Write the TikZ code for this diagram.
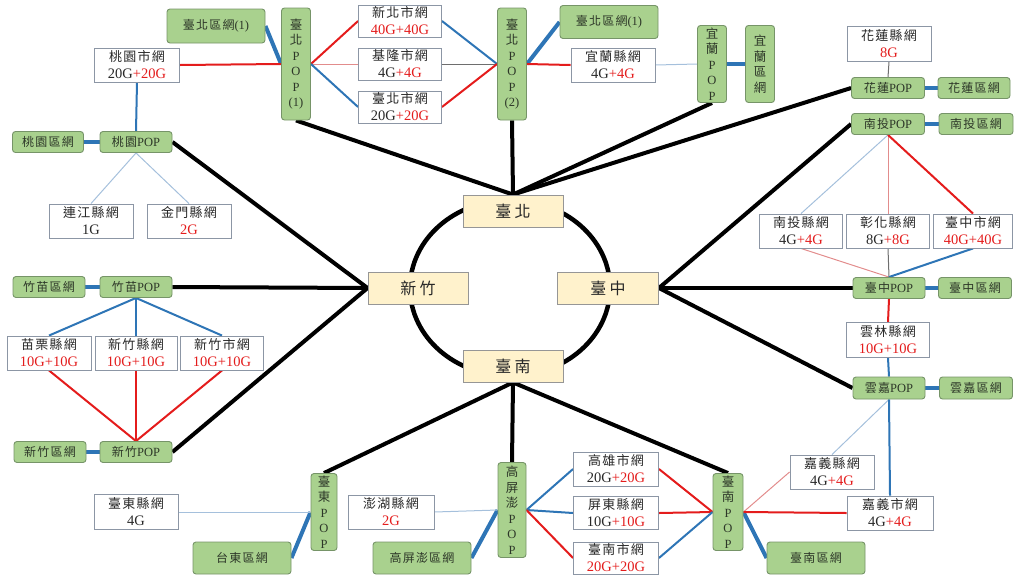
\documentclass[tikz,border=0pt]{standalone}
\usepackage{fontspec}
\usetikzlibrary{backgrounds}
\setmainfont{Liberation Serif}
\newfontfamily\cjk[LetterSpace=10]{Noto Sans CJK TC}
\newfontfamily\cjkn{Noto Sans CJK TC}
\newfontfamily\cjkwide[LetterSpace=20]{Noto Sans CJK TC}
\definecolor{netred}{RGB}{228,28,28}
\definecolor{netblue}{RGB}{46,117,182}
\definecolor{lightblue}{RGB}{165,192,220}
\definecolor{pinkline}{RGB}{226,140,140}
\definecolor{grayline}{RGB}{110,110,110}
\definecolor{gfill}{RGB}{169,209,142}
\definecolor{ggreen}{RGB}{118,148,104}
\definecolor{wgray}{RGB}{140,150,165}
\definecolor{cream}{RGB}{255,242,204}
\definecolor{cgray}{RGB}{150,150,150}
\definecolor{txt}{RGB}{40,40,40}
\definecolor{gtxt}{RGB}{45,55,40}
\newcommand\zh[1]{{\cjk\fontsize{13}{17}\selectfont #1}}
\newcommand\zg[1]{{\cjk\fontsize{12}{14}\selectfont #1}}
\newcommand\zv[1]{{\cjkn\fontsize{12.5}{15.5}\selectfont #1}}
\newcommand\rd[1]{\textcolor{netred}{#1}}
\tikzset{
  wbox/.style={draw=wgray, fill=white, line width=0.9pt, inner sep=0pt,
    minimum width=84pt, minimum height=34pt, align=center, text=txt,
    font=\fontsize{14.5}{17}\selectfont},
  gbox/.style={draw=ggreen, fill=gfill, rounded corners=3pt, line width=0.9pt,
    inner sep=0pt, minimum width=72pt, minimum height=21pt, text=gtxt,
    font=\fontsize{12.5}{14}\selectfont},
  vbox/.style={draw=ggreen, fill=gfill, rounded corners=3pt, line width=0.9pt,
    inner sep=0pt, minimum width=29pt, align=center, text=gtxt,
    font=\fontsize{12.5}{15.5}\selectfont},
  core/.style={draw=cgray, fill=cream, line width=0.9pt, inner sep=0pt,
    minimum width=100pt, minimum height=32pt, text=txt,
    font=\cjkwide\fontsize{16}{18}\selectfont},
  spoke/.style={line width=4pt, black},
  thickb/.style={line width=4pt, netblue},
  lred/.style={line width=2pt, netred},
  lblue/.style={line width=2pt, netblue},
  lpink/.style={line width=1pt, pinkline},
  lgray/.style={line width=1pt, grayline},
  llb/.style={line width=1pt, lightblue}
}
\begin{document}
\begin{tikzpicture}[x=1pt, y=-1pt]
\useasboundingbox (0,0) rectangle (1019,579);
% core
\node[core] (TP) at (513,211) {臺北};
\node[core] (HC) at (418,288) {新竹};
\node[core, minimum width=101pt] (TC) at (608,288) {臺中};
\node[core] (TN) at (513,366) {臺南};
% north
\node[gbox, minimum width=98pt, minimum height=34pt] (tpA) at (216,26) {\zg{臺北區網}(1)};
\node[vbox, minimum height=112pt] (pop1) at (296,64) {\zv{臺}\\\zv{北}\\P\\O\\P\\(1)};
\node[wbox, minimum width=85pt] (tyc) at (137,65) {\zh{桃園市網}\\20G\rd{+20G}};
\node[gbox] (typ) at (136,142) {\zg{桃園}POP};
\node[gbox, minimum width=71pt] (tyr) at (48,142) {\zg{桃園區網}};
\node[wbox, minimum width=83pt, minimum height=32pt] (xb) at (400,21) {\zh{新北市網}\\\rd{40G+40G}};
\node[wbox, minimum width=83pt, minimum height=32pt] (jl) at (400,64) {\zh{基隆市網}\\4G\rd{+4G}};
\node[wbox, minimum width=83pt, minimum height=32pt] (tbc) at (400,107) {\zh{臺北市網}\\20G\rd{+20G}};
\node[vbox, minimum height=112pt] (pop2) at (512,64) {\zv{臺}\\\zv{北}\\P\\O\\P\\(2)};
\node[gbox, minimum width=98pt, minimum height=33pt] (tpB) at (609,22) {\zg{臺北區網}(1)};
\node[wbox] (yl) at (613,65) {\zh{宜蘭縣網}\\4G\rd{+4G}};
\node[vbox, minimum height=77pt] (ylp) at (712,64) {\zv{宜}\\\zv{蘭}\\P\\O\\P};
\node[vbox, minimum height=77pt] (ylr) at (760,64) {\zv{宜}\\\zv{蘭}\\\zv{區}\\\zv{網}};
% east
\node[wbox, minimum height=35pt] (hl) at (889,44) {\zh{花蓮縣網}\\\rd{8G}};
\node[gbox, minimum width=73pt] (hlp) at (888,88) {\zg{花蓮}POP};
\node[gbox] (hlr) at (974,88) {\zg{花蓮區網}};
\node[gbox, minimum width=73pt] (ntp) at (888,124) {\zg{南投}POP};
\node[gbox, minimum width=74pt] (ntr) at (976,124) {\zg{南投區網}};
\node[wbox, minimum width=83pt] (nt) at (801,231) {\zh{南投縣網}\\4G\rd{+4G}};
\node[wbox, minimum width=83pt] (ch) at (888,231) {\zh{彰化縣網}\\8G\rd{+8G}};
\node[wbox, minimum width=79pt] (tcc) at (973,231) {\zh{臺中市網}\\\rd{40G+40G}};
\node[gbox] (tcp) at (889,288) {\zg{臺中}POP};
\node[gbox, minimum width=73pt] (tcr) at (975,288) {\zg{臺中區網}};
\node[wbox, minimum width=83pt, minimum height=35pt] (yln) at (888,340) {\zh{雲林縣網}\\\rd{10G+10G}};
\node[gbox, minimum height=22pt] (ycp) at (889,388) {\zg{雲嘉}POP};
\node[gbox, minimum width=73pt, minimum height=22pt] (ycr) at (976,388) {\zg{雲嘉區網}};
\node[wbox] (cyx) at (832,472) {\zh{嘉義縣網}\\4G\rd{+4G}};
\node[wbox, minimum width=86pt] (cys) at (890,513) {\zh{嘉義市網}\\4G\rd{+4G}};
% south
\node[vbox, minimum width=30pt, minimum height=77pt] (tnp) at (728,512) {\zv{臺}\\\zv{南}\\P\\O\\P};
\node[gbox, minimum width=98pt, minimum height=32pt] (tnr) at (816,558) {\zg{臺南區網}};
\node[vbox, minimum width=28pt, minimum height=95pt] (kpp) at (512,510) {\zv{高}\\\zv{屏}\\\zv{澎}\\P\\O\\P};
\node[wbox, minimum width=85pt] (kh) at (616,469) {\zh{高雄市網}\\20G\rd{+20G}};
\node[wbox, minimum width=85pt, minimum height=33pt] (pt) at (616,513) {\zh{屏東縣網}\\10G\rd{+10G}};
\node[wbox, minimum width=85pt, minimum height=32pt] (tnc) at (616,558) {\zh{臺南市網}\\\rd{20G+20G}};
\node[wbox, minimum width=86pt] (ph) at (391,512) {\zh{澎湖縣網}\\\rd{2G}};
\node[gbox, minimum width=98pt, minimum height=32pt] (kpr) at (422,558) {\zg{高屏澎區網}};
\node[vbox, minimum width=26pt, minimum height=77pt] (tdp) at (324,512) {\zv{臺}\\\zv{東}\\P\\O\\P};
\node[wbox, minimum height=35pt] (td) at (136,512) {\zh{臺東縣網}\\4G};
\node[gbox, minimum width=98pt, minimum height=32pt] (tdr) at (242,558) {\zg{台東區網}};
% west
\node[wbox] (lj) at (91,221) {\zh{連江縣網}\\1G};
\node[wbox] (km) at (189,221) {\zh{金門縣網}\\\rd{2G}};
\node[gbox] (zmp) at (136,287) {\zg{竹苗}POP};
\node[gbox] (zmr) at (49,287) {\zg{竹苗區網}};
\node[wbox] (ml) at (49,353) {\zh{苗栗縣網}\\\rd{10G+10G}};
\node[wbox, minimum width=82pt] (hcx) at (136,353) {\zh{新竹縣網}\\\rd{10G+10G}};
\node[wbox, minimum width=83pt] (hcs) at (222,353) {\zh{新竹市網}\\\rd{10G+10G}};
\node[gbox] (hcp) at (136,452) {\zg{新竹}POP};
\node[gbox] (hcr) at (50,452) {\zg{新竹區網}};

\begin{scope}[on background layer]
\draw[line width=4.5pt] (510,288) ellipse [x radius=100pt, y radius=88pt];
% spokes
\draw[spoke] (pop1.south) -- (TP.north);
\draw[spoke] (pop2.south) -- (TP.north);
\draw[spoke] (ylp.south) -- (TP.north);
\draw[spoke] (hlp.west) -- (TP.north);
\draw[spoke] (typ.east) -- (HC.west);
\draw[spoke] (zmp.east) -- (HC.west);
\draw[spoke] (hcp.east) -- (HC.west);
\draw[spoke] (ntp.west) -- (TC.east);
\draw[spoke] (tcp.west) -- (TC.east);
\draw[spoke] (ycp.west) -- (TC.east);
\draw[spoke] (tdp.north) -- (TN.south);
\draw[spoke] (kpp.north) -- (TN.south);
\draw[spoke] (tnp.north) -- (TN.south);
% regional links
\draw[thickb] (tpA.east) -- (pop1.west);
\draw[thickb] (pop2.east) -- (tpB.west);
\draw[thickb] (ylp.east) -- (ylr.west);
\draw[thickb] (typ.west) -- (tyr.east);
\draw[thickb] (hlp.east) -- (hlr.west);
\draw[thickb] (ntp.east) -- (ntr.west);
\draw[thickb] (tcp.east) -- (tcr.west);
\draw[thickb] (ycp.east) -- (ycr.west);
\draw[thickb] (tnp.east) -- (tnr.west);
\draw[thickb] (kpr.east) -- (kpp.west);
\draw[thickb] (tdr.east) -- (tdp.west);
\draw[thickb] (zmp.west) -- (zmr.east);
\draw[thickb] (hcp.west) -- (hcr.east);
% Taipei
\draw[lred] (tyc.east) -- (pop1.west);
\draw[lblue] (tyc.south) -- (typ.north);
\draw[lred] (pop1.east) -- (xb.west);
\draw[lpink] (pop1.east) -- (jl.west);
\draw[lblue] (pop1.east) -- (tbc.west);
\draw[lblue] (xb.east) -- (pop2.west);
\draw[lgray] (jl.east) -- (pop2.west);
\draw[lred] (tbc.east) -- (pop2.west);
\draw[lred] (pop2.east) -- (yl.west);
\draw[llb] (yl.east) -- (ylp.west);
\draw[llb] (typ.south) -- (lj.north);
\draw[llb] (typ.south) -- (km.north);
% Hsinchu
\draw[lblue] (zmp.south) -- (ml.north);
\draw[lblue] (zmp.south) -- (hcx.north);
\draw[lblue] (zmp.south) -- (hcs.north);
\draw[lred] (ml.south) -- (hcp.north);
\draw[lred] (hcx.south) -- (hcp.north);
\draw[lred] (hcs.south) -- (hcp.north);
% Taichung
\draw[lgray] (hl.south) -- (hlp.north);
\draw[llb] (ntp.south) -- (nt.north);
\draw[lpink] (ntp.south) -- (ch.north);
\draw[lred] (ntp.south) -- (tcc.north);
\draw[lpink] (nt.south) -- (tcp.north);
\draw[lgray] (ch.south) -- (tcp.north);
\draw[lblue] (tcc.south) -- (tcp.north);
\draw[lred] (tcp.south) -- (yln.north);
\draw[lblue] (yln.south) -- (ycp.north);
\draw[llb] (ycp.south) -- (cyx.north);
\draw[lblue] (ycp.south) -- (cys.north);
% Tainan
\draw[lpink] (tnp.east) -- (cyx.west);
\draw[lred] (tnp.east) -- (cys.west);
\draw[lblue] (kpp.east) -- (kh.west);
\draw[lblue] (kpp.east) -- (pt.west);
\draw[lred] (kpp.east) -- (tnc.west);
\draw[lred] (kh.east) -- (tnp.west);
\draw[lred] (pt.east) -- (tnp.west);
\draw[lblue] (tnc.east) -- (tnp.west);
\draw[llb] (ph.east) -- (kpp.west);
\draw[llb] (td.east) -- (tdp.west);
\end{scope}
\end{tikzpicture}
\end{document}
